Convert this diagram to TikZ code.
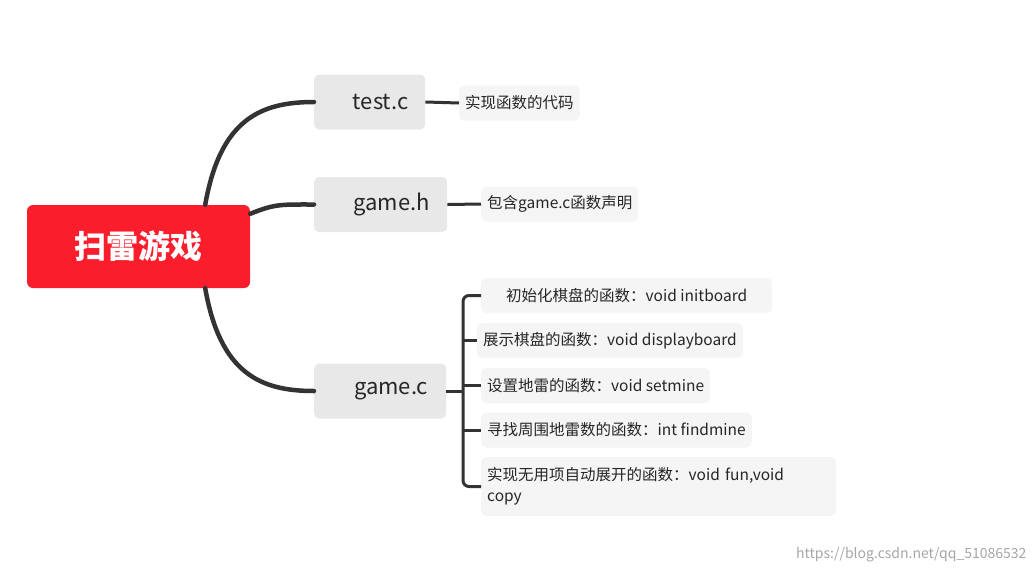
\documentclass[tikz,border=0pt]{standalone}
\usepackage{fontspec}
\setmainfont{Noto Sans CJK SC}
\usetikzlibrary{calc}
\begin{document}
\begin{tikzpicture}[x=1pt,y=-1pt,
  mid/.style={fill=black!9,rounded corners=5pt,minimum height=55pt,font=\fontsize{22}{26}\selectfont,text=black!85,anchor=west,inner xsep=0pt},
  leaf/.style={fill=black!4,rounded corners=5pt,minimum height=35pt,font=\fontsize{15.5}{21}\selectfont,text=black!85,anchor=west,inner xsep=6pt,align=left},
  con/.style={line width=4.5pt,draw=black!80,line cap=round},
  br/.style={line width=3pt,draw=black!80,rounded corners=6pt}]
\useasboundingbox (0,0) rectangle (1036,574);
\node[fill={rgb,255:red,250;green,30;blue,45},rounded corners=6pt,minimum width=223pt,minimum height=83pt,text=white,font=\fontsize{32}{36}\selectfont\bfseries] (root) at (138.5,246.5) {扫雷游戏};
\node[mid,minimum width=111pt] (tc) at (314,102) {\hspace*{22pt}test.c};
\node[mid,minimum width=133pt] (gh) at (314,204.5) {\hspace*{22pt}game.h};
\node[mid,minimum width=132pt] (gc) at (314,391) {\hspace*{22pt}game.c};
\node[leaf] (a) at (459,103) {实现函数的代码};
\node[leaf] (b) at (481,204) {包含game.c函数声明};
\node[leaf,minimum width=291pt] (l1) at (481,295.5) {初始化棋盘的函数：void initboard};
\node[leaf] (l2) at (477,340.5) {展示棋盘的函数：void displayboard};
\node[leaf] (l3) at (481,385.5) {设置地雷的函数：void setmine};
\node[leaf] (l4) at (481,430) {寻找周围地雷数的函数：int findmine};
\node[leaf,minimum height=59pt,text width=343pt] (l5) at (481,486.5) {实现无用项自动展开的函数：void fun,void\\copy};
\draw[con] ([xshift=-45pt]root.north east) .. controls +(15,-85) and (260,102) .. (tc.west);
\draw[con] ([yshift=-9pt]root.north east) .. controls +(25,-10) and (280,204.5) .. (gh.west);
\draw[con] ([xshift=-45pt]root.south east) .. controls +(15,85) and (260,391) .. (gc.west);
\draw[line width=3pt,draw=black!80] (tc.east) -- (a.west);
\draw[line width=3pt,draw=black!80] (gh.east) -- (b.west);
\coordinate (bx) at (463,391);
\draw[line width=3pt,draw=black!80] (gc.east) -- (bx);
\draw[br] (l1.west) -| ($(bx|-l5.west)$) -- (l5.west);
\draw[br] (bx|-l2.west) -- (l2.west);
\draw[br] (bx|-l3.west) -- (l3.west);
\draw[br] (bx|-l4.west) -- (l4.west);
\node[anchor=east,text=black!35,font=\fontsize{14}{16}\selectfont] (wm) at (1030,555) {https://blog.csdn.net/qq\_51086532};
\end{tikzpicture}
\end{document}
